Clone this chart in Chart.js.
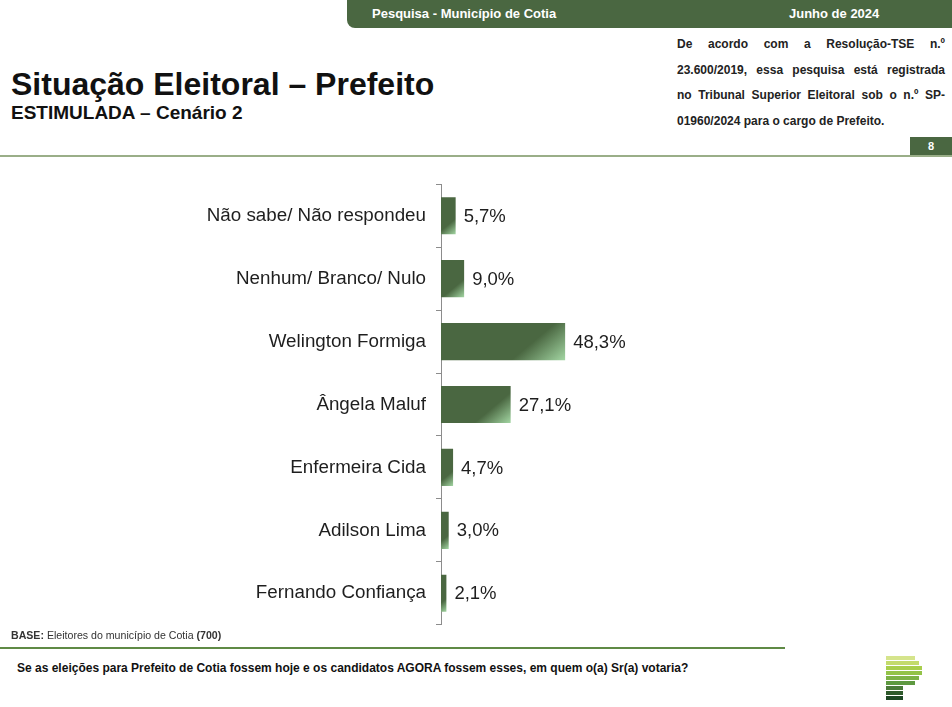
<!DOCTYPE html>
<html lang="pt-BR">
<head>
<meta charset="utf-8">
<title>Situação Eleitoral – Prefeito</title>
<script src="https://cdn.jsdelivr.net/npm/chart.js@4/dist/chart.umd.min.js"></script>
<style>
  html, body { margin: 0; padding: 0; background: #fff; }
  body { width: 952px; height: 707px; position: relative; overflow: hidden;
         font-family: "Liberation Sans", Arial, sans-serif; color: #111; }
  .topbar { position: absolute; left: 347px; top: 0; width: 605px; height: 28px;
            background: #4a6741; border-bottom-left-radius: 8px; color: #fff;
            font-weight: bold; font-size: 13px; }
  .topbar span { position: absolute; top: 6px; }
  .title { position: absolute; left: 11px; top: 66px; font-size: 32px; font-weight: bold; }
  .subtitle { position: absolute; left: 11px; top: 102px; font-size: 19px; font-weight: bold; }
  .note { position: absolute; left: 677px; top: 32px; width: 268px; font-size: 12px;
          font-weight: bold; line-height: 25.5px; color: #222; }
  .note div { text-align: justify; text-align-last: justify; white-space: nowrap; }
  .note div.last { text-align-last: left; }
  .rule { position: absolute; left: 0; top: 155px; width: 952px; height: 2px; background: #9aae88; }
  .page { position: absolute; left: 910px; top: 137px; width: 42px; height: 19px;
          background: #4a6741; color: #fff; font-size: 11px; font-weight: bold;
          text-align: center; line-height: 19px; }
  #wrap { position: absolute; left: 0; top: 163px; width: 952px; height: 483px; }
  .base { position: absolute; left: 11px; top: 629px; font-size: 10.6px; color: #333; }
  .rule2 { position: absolute; left: 0; top: 647px; width: 785px; height: 2px; background: #5f8a45; }
  .question { position: absolute; left: 17px; top: 661px; font-size: 12px; font-weight: bold; color: #111; }
  .logo { position: absolute; left: 886px; top: 656px; }
  .logo div { height: 4px; margin-bottom: 1px; }
</style>
</head>
<body>
<div class="topbar">
  <span style="left:25px">Pesquisa - Município de Cotia</span>
  <span style="left:442px">Junho de 2024</span>
</div>
<div class="title">Situação Eleitoral – Prefeito</div>
<div class="subtitle">ESTIMULADA – Cenário 2</div>
<div class="note">
  <div>De acordo com a Resolução-TSE n.º</div>
  <div>23.600/2019, essa pesquisa está registrada</div>
  <div>no Tribunal Superior Eleitoral sob o n.º SP-</div>
  <div class="last">01960/2024 para o cargo de Prefeito.</div>
</div>
<div class="page">8</div>
<div class="rule"></div>

<div id="wrap"><canvas id="chart"></canvas></div>

<div class="base"><b>BASE:</b> Eleitores do município de Cotia <b>(700)</b></div>
<div class="rule2"></div>
<div class="question">Se as eleições para Prefeito de Cotia fossem hoje e os candidatos AGORA fossem esses, em quem o(a) Sr(a) votaria?</div>
<div class="logo">
  <div style="width:29px;background:#d5e48c"></div>
  <div style="width:33px;background:#c3db6c"></div>
  <div style="width:36px;background:#a8ce4c"></div>
  <div style="width:36px;background:#93c348"></div>
  <div style="width:33px;background:#7db246"></div>
  <div style="width:29px;background:#5e9940"></div>
  <div style="width:17px;background:#4b7a3a"></div>
  <div style="width:17px;background:#2f5a2c"></div>
  <div style="width:17px;background:#1d4624"></div>
</div>

<script>
const categories = [
    'Não sabe/ Não respondeu',
    'Nenhum/ Branco/ Nulo',
    'Welington Formiga',
    'Ângela Maluf',
    'Enfermeira Cida',
    'Adilson Lima',
    'Fernando Confiança'
];
const values = [5.7, 9.0, 48.3, 27.1, 4.7, 3.0, 2.1];

const DARK = '#4a6741';
const LIGHT = '#a3d6a3';
const FONT = '"Liberation Sans", Arial, sans-serif';
const BAR_PCT = 0.59;
const GRAD_ANGLE = 50 * Math.PI / 180;

function formatPct(v) {
    return v.toFixed(1).replace('.', ',') + '%';
}

// fixed-angle gradient per bar, light only in the bottom-right corner
function barFill(context) {
    const chart = context.chart;
    const xs = chart.scales.x;
    const ys = chart.scales.y;
    if (!chart.chartArea || !xs || !ys || context.dataIndex === undefined) {
        return DARK;
    }
    const i = context.dataIndex;
    const band = ys.height / categories.length;
    const h = band * BAR_PCT;
    const x0 = xs.getPixelForValue(0);
    const w = xs.getPixelForValue(values[i]) - x0;
    const top = ys.getPixelForValue(i) - h / 2;
    const c = Math.cos(GRAD_ANGLE), s = Math.sin(GRAD_ANGLE);
    const len = w * c + h * s;
    const g = chart.ctx.createLinearGradient(x0, top, x0 + len * c, top + len * s);
    g.addColorStop(0, DARK);
    g.addColorStop(0.68, DARK);
    g.addColorStop(1, LIGHT);
    return g;
}

const valueLabels = {
    id: 'valueLabels',
    afterDatasetsDraw(chart) {
        const ctx = chart.ctx;
        const meta = chart.getDatasetMeta(0);
        ctx.save();
        ctx.font = '18.5px ' + FONT;
        ctx.fillStyle = '#1e1e1e';
        ctx.textAlign = 'left';
        ctx.textBaseline = 'middle';
        meta.data.forEach((bar, i) => {
            ctx.fillText(formatPct(values[i]), bar.x + 8, bar.y + 1);
        });
        ctx.restore();
    }
};

const ctx = document.getElementById('chart').getContext('2d');
new Chart(ctx, {
    type: 'bar',
    data: {
        labels: categories,
        datasets: [{
            data: values,
            backgroundColor: barFill,
            borderWidth: 0,
            barPercentage: BAR_PCT,
            categoryPercentage: 1
        }]
    },
    options: {
        indexAxis: 'y',
        responsive: true,
        maintainAspectRatio: false,
        animation: false,
        layout: { padding: { top: 0, bottom: 0, left: 0, right: 254 } },
        plugins: {
            legend: { display: false },
            tooltip: { enabled: false }
        },
        scales: {
            x: {
                display: false,
                min: 0,
                max: 100
            },
            y: {
                afterFit(scale) { scale.width = 441; },
                border: { display: true, color: '#8c8c8c', width: 1 },
                grid: {
                    drawOnChartArea: false,
                    drawTicks: true,
                    tickLength: 5,
                    color: '#8c8c8c',
                    offset: true
                },
                ticks: {
                    color: '#1e1e1e',
                    padding: 10,
                    font: { family: FONT, size: 18.8 }
                }
            }
        }
    },
    plugins: [valueLabels]
});
</script>
</body>
</html>
